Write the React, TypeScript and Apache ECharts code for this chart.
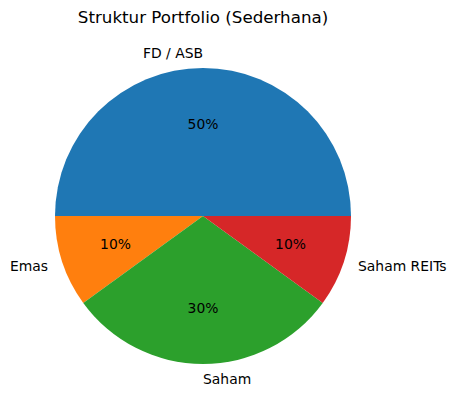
import React, { useEffect, useRef } from "react";
import * as echarts from "echarts";

const titleText = "Struktur Portfolio (Sederhana)";
const categories = ["FD / ASB", "Emas", "Saham", "Saham REITs"];
const values = [50, 10, 30, 10];
const colors = ["#1f77b4", "#ff7f0e", "#2ca02c", "#d62728"];
const outerAlign = ["right", "right", "left", "left"];

const FONT = "DejaVu Sans";

export default function App() {
  const ref = useRef<HTMLDivElement>(null);
  useEffect(() => {
    document.body.style.margin = "0";
    const chart = echarts.init(ref.current!, null, { renderer: "svg" });
    const data = categories.map((name, i) => ({
      name,
      value: values[i],
      itemStyle: { color: colors[i] },
    }));
    const R = 148;
    chart.setOption({
      animation: false,
      backgroundColor: "#ffffff",
      title: {
        text: titleText,
        left: 203,
        top: 8,
        padding: 0,
        textAlign: "center",
        textStyle: {
          fontFamily: FONT,
          fontSize: 16.7,
          fontWeight: "normal",
          color: "#000000",
        },
      },
      series: [
        {
          type: "pie",
          center: [203, 216],
          radius: [0, R],
          startAngle: 0,
          clockwise: false,
          avoidLabelOverlap: false,
          silent: true,
          emphasis: { disabled: true },
          itemStyle: { borderWidth: 0 },
          data,
          label: {
            show: true,
            position: "outside",
            distanceToLabelLine: 0,
            fontFamily: FONT,
            fontSize: 13.9,
            color: "#000000",
            formatter: "{b}",
          },
          labelLine: { show: false, length: 15, length2: 0 },
          labelLayout: (p: any) => ({ align: outerAlign[p.dataIndex] }),
        },
        {
          type: "pie",
          center: [203, 216],
          radius: [30, R],
          startAngle: 0,
          clockwise: false,
          avoidLabelOverlap: false,
          silent: true,
          emphasis: { disabled: true },
          itemStyle: { color: "transparent", borderWidth: 0 },
          data: categories.map((name, i) => ({ name, value: values[i] })),
          label: {
            show: true,
            position: "inside",
            fontFamily: FONT,
            fontSize: 13.9,
            color: "#000000",
            formatter: (p: any) => Math.round(p.percent) + "%",
          },
          labelLine: { show: false },
        },
      ],
    });
    return () => chart.dispose();
  }, []);
  return (
    <div
      ref={ref}
      style={{ position: "fixed", left: 0, top: 0, width: 455, height: 411 }}
    />
  );
}
